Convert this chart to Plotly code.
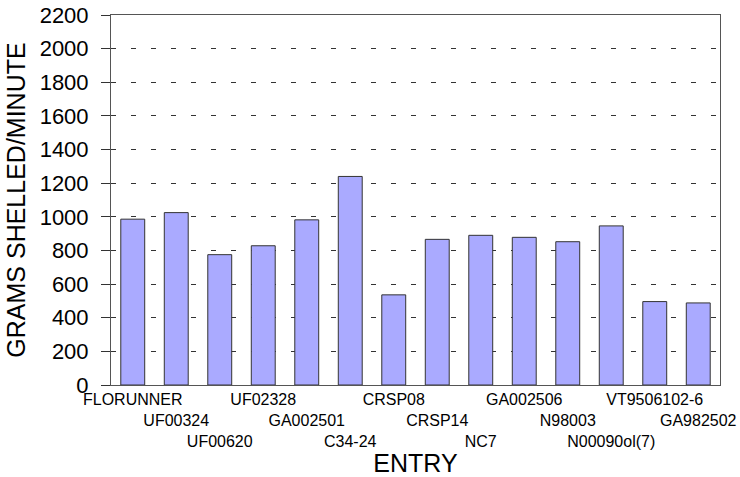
import plotly.graph_objects as go

entries = ["FLORUNNER", "UF00324", "UF00620", "UF02328", "GA002501", "C34-24",
           "CRSP08", "CRSP14", "NC7", "GA002506", "N98003", "N00090ol(7)",
           "VT9506102-6", "GA982502"]
grams_per_min = [986, 1025, 775, 828, 982, 1240, 536, 866, 890, 878, 852, 946, 496, 488]

# staggered tick labels, three rows
tick_text = [("<br>" * (i % 3)) + name for i, name in enumerate(entries)]

fig = go.Figure()
fig.add_bar(x=entries, y=grams_per_min,
            marker=dict(color="#AAAAFF", line=dict(color="#333333", width=1)))

fig.update_layout(
    width=740, height=477,
    margin=dict(l=111, r=20, t=15, b=92),
    paper_bgcolor="white", plot_bgcolor="white",
    font=dict(family="Liberation Sans, Arial", color="black"),
    bargap=0.45,
    showlegend=False,
    xaxis=dict(
        tickmode="array", tickvals=entries, ticktext=tick_text,
        tickfont=dict(size=16), ticks="", tickangle=0, automargin=False,
        showline=True, linecolor="#555555", linewidth=1, mirror=True,
        showgrid=False,
        title=dict(text="ENTRY", font=dict(size=25), standoff=0),
    ),
    yaxis=dict(
        range=[0, 2200], dtick=200, tick0=0, automargin=False,
        ticks="outside", ticklen=9, tickcolor="#333333",
        tickfont=dict(size=22), ticklabelstandoff=8,
        showline=True, linecolor="#555555", linewidth=1, mirror=True,
        showgrid=True, gridcolor="#333333", griddash="5px,15px", gridwidth=1,
        zeroline=False,
        title=dict(text="GRAMS SHELLED/MINUTE", font=dict(size=25), standoff=6),
    ),
)

fig.write_html("out.html", config={"displayModeBar": False},
               post_script="document.body.style.margin='0';")
